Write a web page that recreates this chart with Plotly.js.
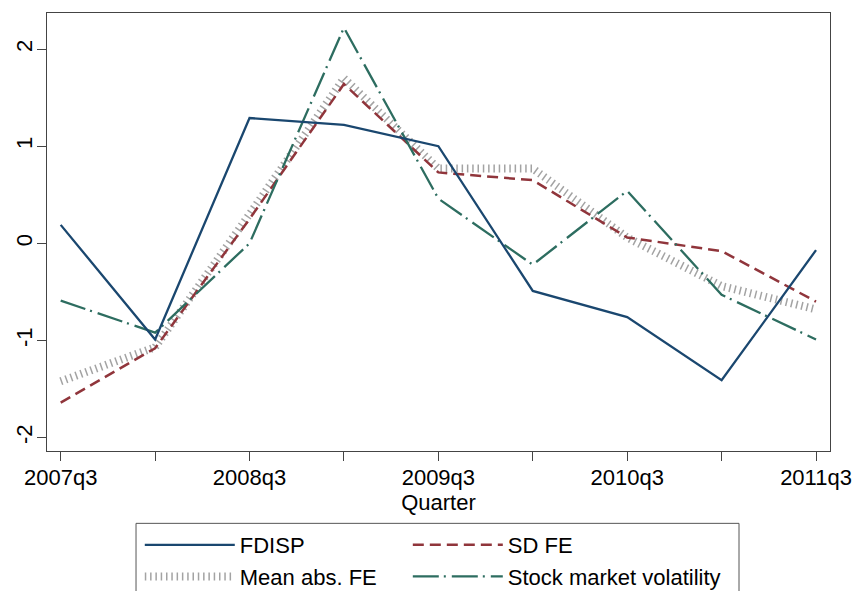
<!DOCTYPE html>
<html>
<head>
<meta charset="utf-8">
<script src="https://cdn.plot.ly/plotly-3.0.1.min.js"></script>
<style>
  html, body { margin: 0; padding: 0; background: #fff; }
  #chart { width: 855px; height: 591px; }
</style>
</head>
<body>
<div id="chart"></div>
<script>
// Quarters (half-year steps)
const quarters = ["2007q3", "2008q1", "2008q3", "2009q1", "2009q3", "2010q1", "2010q3", "2011q1", "2011q3"];
const tickLabels = ["2007q3", "", "2008q3", "", "2009q3", "", "2010q3", "", "2011q3"];
const yTickVals = [-2, -1, 0, 1, 2];
const yTickText = ["-2", "-1", "0", "1", "2"];

// Series values (standardized)
const fdisp      = [0.19, -0.99, 1.29, 1.22, 1.00, -0.49, -0.76, -1.41, -0.07];
const sdFE       = [-1.64, -1.08, 0.25, 1.64, 0.73, 0.65, 0.06, -0.08, -0.60];
const meanAbsFE  = [-1.42, -1.07, 0.30, 1.70, 0.77, 0.77, 0.06, -0.44, -0.68];
const stockVol   = [-0.59, -0.92, 0.00, 2.22, 0.46, -0.22, 0.54, -0.53, -0.99];

const xIdx = quarters.map((q, i) => i);
const FONT = '"Liberation Sans", Arial, Helvetica, sans-serif';

const traces = [
  { x: xIdx, y: meanAbsFE, name: "Mean abs. FE", mode: "lines", legend: "legend", legendrank: 2, legendgroup: "c",
    line: { color: "#a3a3a3", width: 8, dash: "1.5px,3.8px" } },
  { x: xIdx, y: sdFE, name: "SD FE", mode: "lines", legend: "legend2", legendrank: 1, legendgroup: "b",
    line: { color: "#90353b", width: 2.5, dash: "11px,6px" } },
  { x: xIdx, y: stockVol, name: "Stock market volatility", mode: "lines", legend: "legend2", legendrank: 2, legendgroup: "d",
    line: { color: "#2d6d60", width: 2.3, dash: "26px,5px,2px,6px" } },
  { x: xIdx, y: fdisp, name: "FDISP", mode: "lines", legend: "legend", legendrank: 1, legendgroup: "a",
    line: { color: "#1a476f", width: 2.3 } }
];

const legendCommon = {
  orientation: "v",
  y: -0.1667, yanchor: "top", xanchor: "left",
  borderwidth: 0,
  bgcolor: "rgba(0,0,0,0)",
  font: { size: 22 },
  itemwidth: 90,
  tracegroupgap: 0,
  traceorder: "grouped"
};

const layout = {
  width: 855, height: 591,
  margin: { l: 47, r: 25, t: 13, b: 140.3, pad: 0, autoexpand: false },
  paper_bgcolor: "#ffffff",
  plot_bgcolor: "#ffffff",
  font: { family: FONT, size: 22, color: "#000" },
  showlegend: true,
  xaxis: {
    range: [-0.145, 8.148],
    tickvals: xIdx, ticktext: tickLabels,
    ticks: "outside", ticklen: 9, tickwidth: 1, tickcolor: "#444",
    ticklabelstandoff: -2,
    showgrid: false, zeroline: false,
    showline: true, linecolor: "#444", linewidth: 1, mirror: true,
    tickfont: { size: 22 },
    title: { text: "Quarter", font: { size: 22 }, standoff: 0 }
  },
  yaxis: {
    range: [-2.138, 2.371],
    tickvals: yTickVals, ticktext: yTickText,
    ticks: "outside", ticklen: 9, tickwidth: 1, tickcolor: "#444",
    tickangle: -90,
    ticklabelstandoff: -4,
    showgrid: false, zeroline: false,
    showline: true, linecolor: "#444", linewidth: 1, mirror: true,
    tickfont: { size: 22 }
  },
  legend: Object.assign({}, legendCommon, { x: 0.1185 }),
  legend2: Object.assign({}, legendCommon, { x: 0.4608 }),
  shapes: [
    { type: "rect", xref: "paper", yref: "paper",
      x0: 0.1137, x1: 0.8838, y0: -0.1652, y1: -0.45,
      line: { color: "#555", width: 1 }, fillcolor: "rgba(0,0,0,0)", layer: "below" }
  ]
};

Plotly.newPlot("chart", traces, layout, { displayModeBar: false, staticPlot: true });
</script>
</body>
</html>
